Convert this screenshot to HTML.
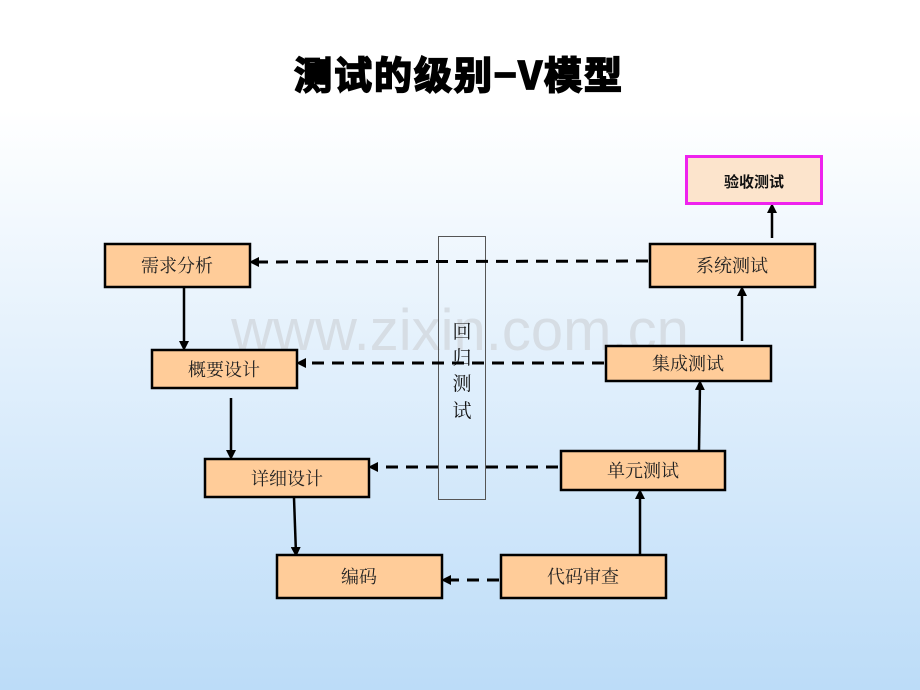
<!DOCTYPE html>
<html><head><meta charset="utf-8"><style>
html,body{margin:0;padding:0;width:920px;height:690px;overflow:hidden}
</style></head><body>
<svg width="920" height="690" xmlns="http://www.w3.org/2000/svg" font-family="'Liberation Serif','Noto Serif CJK SC','Noto Sans CJK SC',serif">
<defs>
<linearGradient id="bg" x1="0" y1="0" x2="0" y2="1">
<stop offset="0" stop-color="#ffffff"/>
<stop offset="0.16" stop-color="#ffffff"/>
<stop offset="1" stop-color="#bcdcf8"/>
</linearGradient>
<marker id="ah" markerWidth="10" markerHeight="10" refX="7" refY="5" orient="auto" markerUnits="userSpaceOnUse">
<path d="M0,0 L10,5 L0,10 z" fill="#000"/>
</marker>
</defs>
<rect width="920" height="690" fill="url(#bg)"/>
<text x="459" y="89" text-anchor="middle" font-size="38" letter-spacing="2" font-weight="bold" stroke="#000" stroke-width="1.8" font-family="'Noto Sans CJK SC','WenQuanYi Zen Hei',sans-serif">测试的级别−V模型</text>
<text x="460" y="350" text-anchor="middle" font-size="58" fill="#d6dde4" font-family="'Liberation Sans',sans-serif">www.zixin.com.cn</text>

<rect x="438.5" y="236.5" width="47" height="263" fill="none" stroke="#555" stroke-width="1"/>
<g font-size="19" fill="#111" text-anchor="middle" font-family="'Noto Serif CJK SC','Noto Sans CJK SC',serif">
<text x="462" y="338">回</text><text x="462" y="364">归</text><text x="462" y="390">测</text><text x="462" y="417">试</text>
</g>

<g stroke="#000" stroke-width="3" stroke-dasharray="12,8" fill="none" marker-end="url(#ah)">
<line x1="648" y1="261" x2="252" y2="262"/>
<line x1="604" y1="363" x2="299" y2="363"/>
<line x1="558" y1="467" x2="371" y2="467"/>
<line x1="499" y1="580" x2="444" y2="580"/>
</g>
<g stroke="#000" stroke-width="2.5" fill="none" marker-end="url(#ah)">
<line x1="184" y1="288" x2="184" y2="348"/>
<line x1="231" y1="398" x2="231" y2="457"/>
<line x1="294" y1="498" x2="296" y2="554"/>
<line x1="640" y1="555" x2="640" y2="492"/>
<line x1="699" y1="450" x2="700" y2="383"/>
<line x1="742" y1="341" x2="742" y2="289"/>
<line x1="772" y1="238" x2="772" y2="206"/>
</g>

<g fill="#ffcc99" stroke="#000" stroke-width="2.5">
<rect x="105" y="244" width="145" height="43"/>
<rect x="152" y="350" width="145" height="38"/>
<rect x="205" y="459" width="164" height="38"/>
<rect x="277" y="555" width="165" height="43"/>
<rect x="501" y="555" width="165" height="43"/>
<rect x="561" y="451" width="164" height="39"/>
<rect x="606" y="346" width="165" height="35"/>
<rect x="650" y="244" width="165" height="43"/>
</g>
<rect x="686.5" y="156.5" width="135" height="47" fill="#fce4cc" stroke="#ee22ee" stroke-width="3"/>

<g font-size="18" fill="#222" text-anchor="middle" font-family="'Noto Serif CJK SC','Noto Sans CJK SC',serif">
<text x="177" y="272">需求分析</text>
<text x="224" y="376">概要设计</text>
<text x="287" y="485">详细设计</text>
<text x="359" y="583">编码</text>
<text x="583" y="583">代码审查</text>
<text x="643" y="477">单元测试</text>
<text x="688" y="370">集成测试</text>
<text x="732" y="272">系统测试</text>
</g>
<text x="754" y="187" font-size="15" font-weight="bold" text-anchor="middle" fill="#111" font-family="'Noto Sans CJK SC',sans-serif">验收测试</text>
</svg>
</body></html>
